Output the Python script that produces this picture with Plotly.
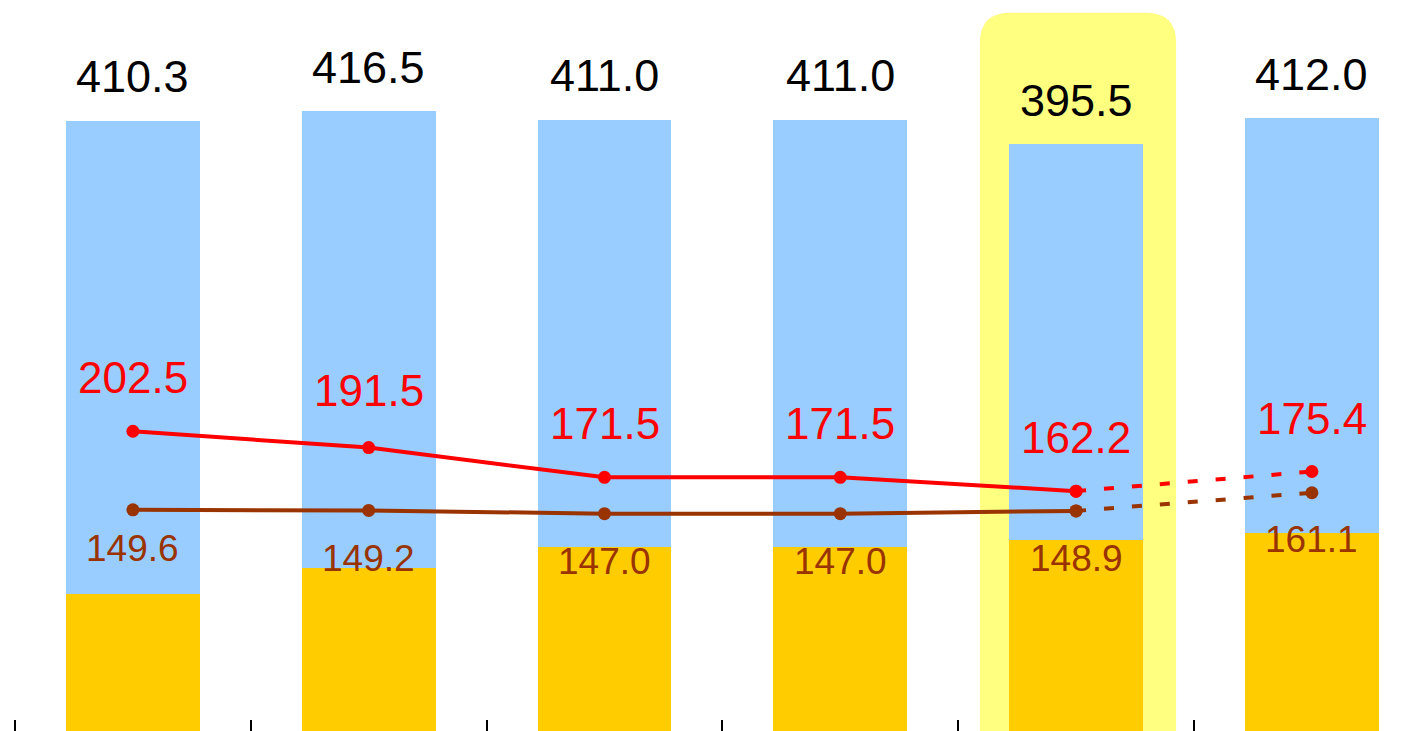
import plotly.graph_objects as go

# ---- data ----
categories = [0, 1, 2, 3, 4, 5]
totals = [410.3, 416.5, 411.0, 411.0, 395.5, 412.0]
gold_vals = [109.1, 125.8, 139.2, 139.2, 143.5, 147.9]
blue_vals = [301.2, 290.7, 271.8, 271.8, 252.0, 264.1]
red_vals = [202.5, 191.5, 171.5, 171.5, 162.2, 175.4]
brown_vals = [149.6, 149.2, 147.0, 147.0, 148.9, 161.1]
highlight_index = 4

# ---- styling ----
FONT = "Liberation Sans, Arial, sans-serif"
GOLD = "#FFCC00"
BLUE = "#99CCFF"
RED = "#FF0000"
BROWN = "#993300"
HILITE = "#FFFF80"
red_shift = [53.5, 57, 53.5, 53.5, 53.5, 53]
brown_shift = [-39, -48, -48, -48, -48, -47]

fig = go.Figure()

fig.add_trace(go.Bar(x=categories, y=gold_vals, marker=dict(color=GOLD, line=dict(width=0)),
                     width=0.568, hoverinfo="skip", showlegend=False))
fig.add_trace(go.Bar(x=categories, y=blue_vals, marker=dict(color=BLUE, line=dict(width=0)),
                     width=0.568, hoverinfo="skip", showlegend=False))

def add_line(vals, color):
    fig.add_trace(go.Scatter(x=categories[:5], y=vals[:5], mode="lines+markers", yaxis="y2",
                             line=dict(color=color, width=4), marker=dict(color=color, size=13),
                             showlegend=False))
    fig.add_trace(go.Scatter(x=categories[4:6], y=vals[4:6], mode="lines+markers", yaxis="y2",
                             line=dict(color=color, width=4, dash="10px,18px"),
                             marker=dict(color=color, size=13), showlegend=False))

add_line(brown_vals, BROWN)
add_line(red_vals, RED)

annotations = []
for i, t in enumerate(totals):
    annotations.append(dict(x=categories[i], y=t, xref="x", yref="y", text=f"{t:.1f}",
                            showarrow=False, yanchor="middle", yshift=44,
                            font=dict(family=FONT, size=45, color="black")))
for i, v in enumerate(red_vals):
    annotations.append(dict(x=categories[i], y=v, xref="x", yref="y2", text=f"{v:.1f}",
                            showarrow=False, yanchor="middle", yshift=red_shift[i],
                            font=dict(family=FONT, size=44, color=RED)))
for i, v in enumerate(brown_vals):
    annotations.append(dict(x=categories[i], y=v, xref="x", yref="y2", text=f"{v:.1f}",
                            showarrow=False, yanchor="middle", yshift=brown_shift[i],
                            font=dict(family=FONT, size=37, color=BROWN)))

# rounded highlight behind the highlighted category
hx0 = highlight_index - 0.408
hx1 = highlight_index + 0.424
htop = 479.1
rx, ry = 0.127, 19.1
path = (f"M {hx0},0 L {hx0},{htop - ry} Q {hx0},{htop} {hx0 + rx},{htop} "
        f"L {hx1 - rx},{htop} Q {hx1},{htop} {hx1},{htop - ry} L {hx1},0 Z")

# page has an 8px default body margin; figure sized to fit the window
fig.update_layout(
    width=1403, height=723,
    margin=dict(l=2, r=0, t=0, b=0, pad=0),
    paper_bgcolor="white", plot_bgcolor="white",
    barmode="stack", bargap=0,
    showlegend=False,
    font=dict(family=FONT),
    annotations=annotations,
    shapes=[dict(type="path", path=path, xref="x", yref="y", fillcolor=HILITE,
                 line=dict(width=0), layer="below")],
    xaxis=dict(range=[-0.5212, 5.4203], tickmode="array",
               tickvals=[c - 0.5 for c in categories],
               ticks="inside", ticklen=11, tickwidth=2, tickcolor="black",
               showticklabels=False, showgrid=False, zeroline=False, showline=False),
    yaxis=dict(range=[21.9, 482.1], visible=False, showgrid=False, zeroline=False),
    yaxis2=dict(range=[0.74, 487.4], overlaying="y", visible=False,
                showgrid=False, zeroline=False),
)

fig.write_html("out.html")
